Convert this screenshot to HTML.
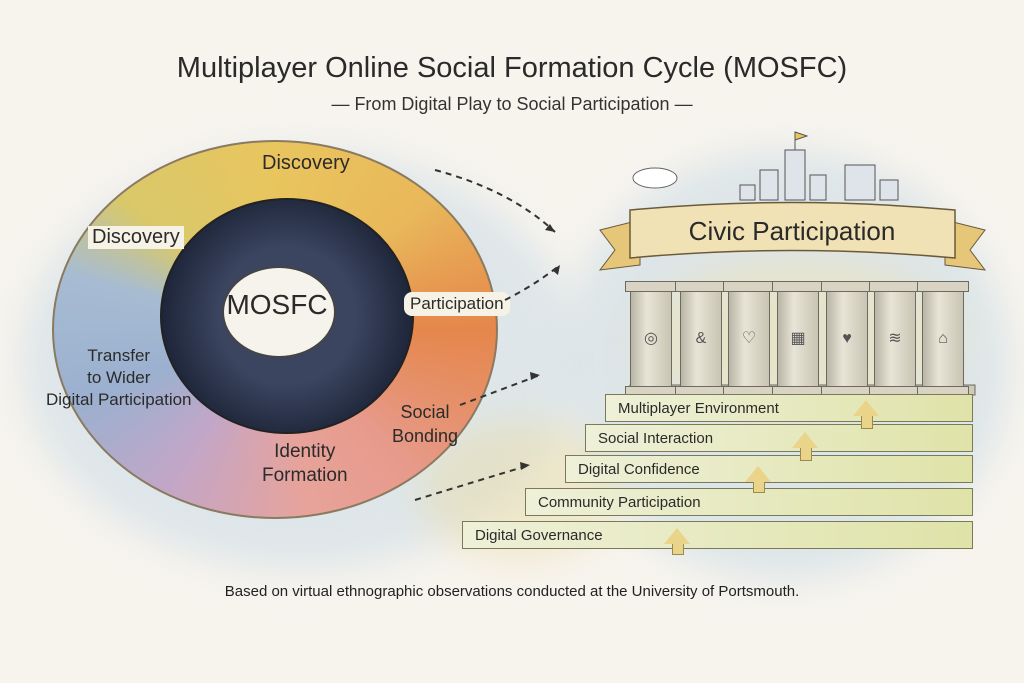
<!DOCTYPE html>
<html><head><meta charset="utf-8">
<style>
html,body{margin:0;padding:0}
body{width:1024px;height:683px;position:relative;overflow:hidden;background:#f7f4ee;font-family:"Liberation Sans",sans-serif;color:#2a2a2a}
.abs{position:absolute}
.wash{position:absolute;border-radius:50%;filter:blur(18px)}
.lbl{position:absolute;font-size:19px;color:#2b2b2b;white-space:nowrap}
.col{position:absolute;top:290px;width:40px;height:96px;background:linear-gradient(90deg,#b9b6a8,#e8e4d6 40%,#c9c5b4);border:1px solid #6d6a60;text-align:center;line-height:96px;font-size:16px;color:#555}
.col:before{content:"";position:absolute;left:-6px;top:-10px;width:50px;height:9px;background:#d8d3c2;border:1px solid #6d6a60}
.col:after{content:"";position:absolute;left:-6px;bottom:-9px;width:50px;height:8px;background:#d8d3c2;border:1px solid #6d6a60}
.step{position:absolute;height:28px;background:linear-gradient(90deg,#eef0d8,#dfe3a8);border:1px solid #7a7a5a;font-size:15px;line-height:28px;padding-left:12px;box-sizing:border-box}
.arr{position:absolute;width:0;height:0;border-left:13px solid transparent;border-right:13px solid transparent;border-bottom:16px solid #e9d48a}
.arrs{position:absolute;width:10px;background:#e9d48a;border:1px solid #9a8a50;border-top:none}
</style></head><body>
<div class="wash" style="left:20px;top:150px;width:560px;height:420px;background:#cfdde6;opacity:.6"></div>
<div class="wash" style="left:560px;top:150px;width:450px;height:430px;background:#d3e0e6;opacity:.7"></div>
<div class="wash" style="left:640px;top:260px;width:320px;height:160px;background:#efe2b0;opacity:.5"></div>
<div class="wash" style="left:420px;top:420px;width:200px;height:140px;background:#e8dcaa;opacity:.5"></div>

<div class="abs" style="left:0;top:52px;width:1024px;text-align:center;font-size:29px;color:#2a2a2a">Multiplayer Online Social Formation Cycle (MOSFC)</div>
<div class="abs" style="left:0;top:94px;width:1024px;text-align:center;font-size:18px;color:#333">— From Digital Play to Social Participation —</div>

<div class="abs" style="left:52px;top:140px;width:442px;height:375px;border-radius:50%;background:conic-gradient(from 0deg,#e9c55e 0deg,#e9b85a 50deg,#e5874c 90deg,#e79a8a 135deg,#e7a39b 170deg,#c2a6c8 215deg,#9bb0cf 250deg,#a7bcd2 285deg,#d9c86a 310deg,#e9c55e 360deg);border:2px solid #8a7a60"></div>
<div class="abs" style="left:160px;top:198px;width:250px;height:232px;border-radius:50%;background:radial-gradient(circle,#3b4560 40%,#1d2438 75%);border:2px solid #222"></div>
<div class="abs" style="left:222px;top:266px;width:110px;height:88px;border-radius:50%;background:#f6f3ec;border:2px solid #444"></div>
<div class="abs" style="left:222px;top:289px;width:110px;text-align:center;font-size:28px">MOSFC</div>

<div class="lbl" style="left:262px;top:152px;font-size:20px">Discovery</div>
<div class="lbl" style="left:88px;top:226px;font-size:20px;background:#f6f2e6;padding:0 4px">Discovery</div>
<div class="lbl" style="left:404px;top:292px;font-size:17px;background:#f6f2e6;padding:2px 6px;border-radius:8px">Participation</div>
<div class="lbl" style="left:46px;top:345px;font-size:17px;line-height:22px;text-align:center">Transfer<br>to Wider<br>Digital Participation</div>
<div class="lbl" style="left:392px;top:400px;font-size:18px;line-height:24px;text-align:center">Social<br>Bonding</div>
<div class="lbl" style="left:262px;top:440px;font-size:19px;line-height:24px;text-align:center">Identity<br>Formation</div>

<svg class="abs" style="left:0;top:0" width="1024" height="683">
<g fill="none" stroke="#333" stroke-width="2" stroke-dasharray="6,5">
<path d="M435 170 Q510 190 555 232"/><path d="M505 300 Q535 285 560 265"/>
<path d="M460 405 Q500 390 540 375"/><path d="M415 500 Q480 480 530 465"/>
</g>
<g fill="#333"><path d="M555 232 l-10 -2 l5 -6z"/><path d="M560 265 l-2 10 l-6 -5z"/><path d="M540 375 l-9 5 l-1 -8z"/><path d="M530 465 l-9 5 l-1 -8z"/></g>
<g fill="#dfe3ea" stroke="#555"><rect x="760" y="170" width="18" height="30"/><rect x="785" y="150" width="20" height="50"/><rect x="810" y="175" width="16" height="25"/><rect x="845" y="165" width="30" height="35"/><rect x="880" y="180" width="18" height="20"/><rect x="740" y="185" width="15" height="15"/></g>
<path d="M795 150 v-18 l12 4 l-12 4" stroke="#555" fill="#e9c55e"/>
<ellipse cx="655" cy="178" rx="22" ry="10" fill="#fff" stroke="#666"/>
<path d="M600 230 l40 -10 l0 45 l-40 5 l15 -20z" fill="#e6c77a" stroke="#6b5a3a"/>
<path d="M985 230 l-40 -10 l0 45 l40 5 l-15 -20z" fill="#e6c77a" stroke="#6b5a3a"/>
<path d="M630 210 Q790 195 955 210 L955 258 Q790 243 630 258z" fill="#f1e2b5" stroke="#6b5a3a" stroke-width="1.5"/>
<text x="792" y="240" font-family="Liberation Sans" font-size="26" text-anchor="middle" fill="#2a2a2a">Civic Participation</text>
<rect x="630" y="385" width="345" height="10" fill="#cfcab8" stroke="#6d6a60"/>
</svg>

<div class="col" style="left:630px">◎</div><div class="col" style="left:680px">&amp;</div><div class="col" style="left:728px">♡</div><div class="col" style="left:777px">▦</div><div class="col" style="left:826px">♥</div><div class="col" style="left:874px">≋</div><div class="col" style="left:922px">⌂</div>

<div class="step" style="left:605px;top:394px;width:368px">Multiplayer Environment</div>
<div class="step" style="left:585px;top:424px;width:388px">Social Interaction</div>
<div class="step" style="left:565px;top:455px;width:408px">Digital Confidence</div>
<div class="step" style="left:525px;top:488px;width:448px">Community Participation</div>
<div class="step" style="left:462px;top:521px;width:511px">Digital Governance</div>

<div class="arr" style="left:853px;top:400px"></div><div class="arrs" style="left:861px;top:416px;height:12px"></div>
<div class="arr" style="left:792px;top:432px"></div><div class="arrs" style="left:800px;top:448px;height:12px"></div>
<div class="arr" style="left:745px;top:466px"></div><div class="arrs" style="left:753px;top:482px;height:10px"></div>
<div class="arr" style="left:664px;top:528px"></div><div class="arrs" style="left:672px;top:544px;height:10px"></div>

<div class="abs" style="left:0;top:583px;width:1024px;text-align:center;font-size:15px;color:#222">Based on virtual ethnographic observations conducted at the University of Portsmouth.</div>
</body></html>
